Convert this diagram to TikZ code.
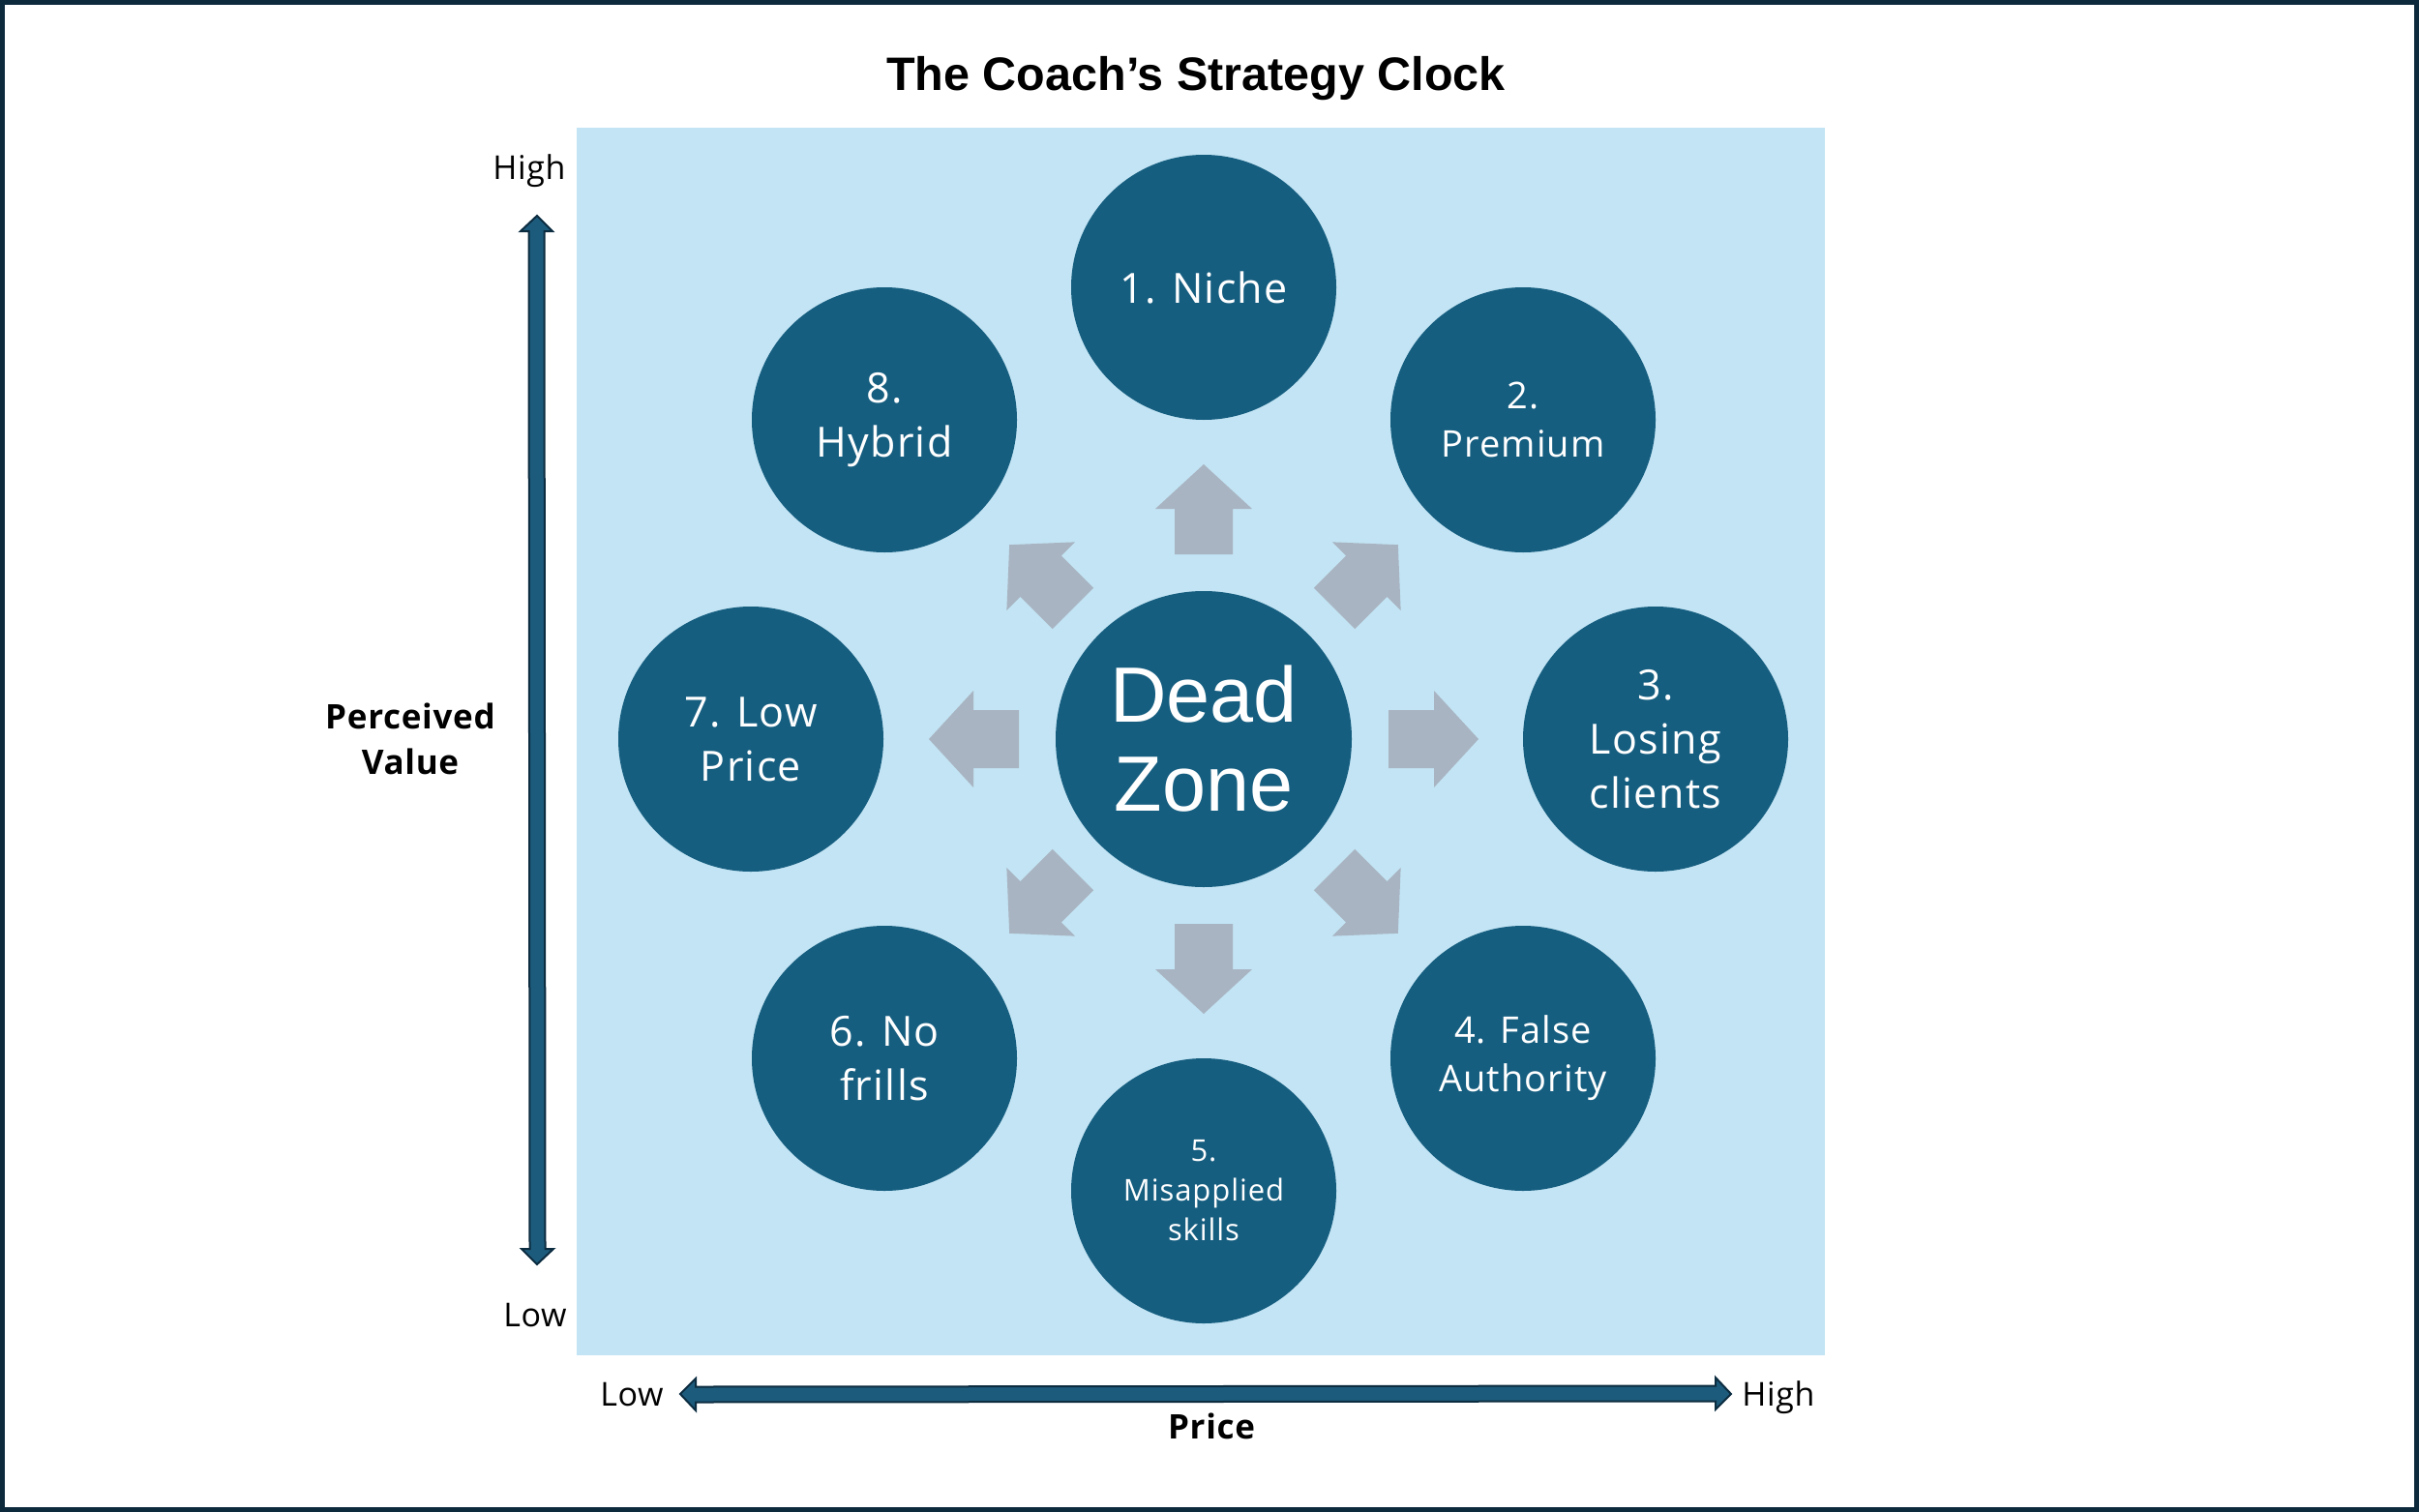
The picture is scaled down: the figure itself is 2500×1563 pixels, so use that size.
\documentclass[tikz,border=0pt]{standalone}
\usepackage{fontspec}
\setmainfont{Open Sans}
\newfontfamily\cfont{Open Sans}[LetterSpace=3]
\newfontfamily\lfont{Open Sans}[LetterSpace=2]
\newfontfamily\arialfont{Liberation Sans}
\definecolor{navyborder}{HTML}{0D2A3D}
\definecolor{circblue}{HTML}{165E80}
\definecolor{lightbg}{HTML}{C2E4F4}
\definecolor{arrowgray}{HTML}{A9B4C2}
\definecolor{axisfill}{HTML}{1D5B7C}
\definecolor{axisline}{HTML}{0C2C40}
\tikzset{
  stratcirc/.style={circle, fill=circblue, draw=none, minimum size=274pt, inner sep=0pt,
    text=white, align=center, font=\cfont\fontsize{43}{56}\selectfont},
  smalltext/.style={font=\cfont\fontsize{38}{50}\selectfont},
  tinytext/.style={font=\cfont\fontsize{31}{41}\selectfont},
  axislabel/.style={anchor=base, font=\lfont\fontsize{34}{40}\selectfont, inner sep=0pt},
  axistitle/.style={align=center, font=\lfont\bfseries\fontsize{35}{47}\selectfont, inner sep=0pt},
  blockarrow/.style={fill=arrowgray, draw=none},
  axisarrow/.style={fill=axisfill, draw=axisline, line width=2pt, line join=miter}
}
\begin{document}
\begin{tikzpicture}[x=1pt, y=-1pt]
\useasboundingbox (0,0) rectangle (2500,1563);
\fill[white] (0,0) rectangle (2500,1563);
\draw[navyborder, line width=5pt] (2.5,2.5) rectangle (2497.5,1560.5);

% title
\node[anchor=base, inner sep=0pt, font=\arialfont\bfseries\fontsize{48.5}{56}\selectfont] (title) at (1236,93) {The Coach’s Strategy Clock};

% background square
\fill[lightbg] (596,132) rectangle (1886,1401);

% block arrows
\foreach \a in {0,45,...,315}{
  \begin{scope}[shift={(1244,764)}, rotate=\a]
    \fill[blockarrow] (191,-30) -- (238,-30) -- (238,-50) -- (284,0) -- (238,50) -- (238,30) -- (191,30) -- cycle;
  \end{scope}
}

% circles
\node[stratcirc, minimum size=306pt, font=\arialfont\fontsize{81}{92}\selectfont] (dead) at (1244,764) {Dead\\Zone};
\node[stratcirc] (c1) at (1244,297) {1. Niche};
\node[stratcirc, smalltext] (c2) at (1574,434) {2.\\Premium};
\node[stratcirc] (c3) at (1711,764) {3.\\Losing\\clients};
\node[stratcirc, smalltext] (c4) at (1574,1094) {4. False\\Authority};
\node[stratcirc, tinytext] (c5) at (1244,1231) {5.\\Misapplied\\skills};
\node[stratcirc] (c6) at (914,1094) {6. No\\frills};
\node[stratcirc] (c7) at (776,764) {7. Low\\Price};
\node[stratcirc] (c8) at (914,434) {8.\\Hybrid};

% vertical axis arrow
\coordinate (vtop) at (555,223);
\coordinate (vbot) at (555,1307);
\draw[axisarrow] (vtop) -- ++(16,16) -- ++(-8.5,0) -- (563.5,1291) -- ++(8.5,0) -- (vbot) -- ++(-16,-16) -- ++(8.5,0) -- (546.5,239) -- ++(-8.5,0) -- cycle;

% horizontal axis arrow
\coordinate (hleft) at (703,1441);
\coordinate (hright) at (1789,1441);
\draw[axisarrow] (hleft) -- ++(16,-16) -- ++(0,8.5) -- (1773,1432.5) -- ++(0,-8.5) -- (hright) -- ++(-16,16) -- ++(0,-8.5) -- (719,1449.5) -- ++(0,8.5) -- cycle;

% axis labels
\node[axislabel] (vhigh) at (547,185) {High};
\node[axislabel] (vlow) at (553,1371) {Low};
\node[axislabel] (hlow) at (653,1453) {Low};
\node[axislabel] (hhigh) at (1838,1453) {High};
\node[axistitle, anchor=base] (price) at (1252,1487) {Price};
\node[axistitle] (pv) at (424,764) {Perceived\\Value};
\end{tikzpicture}
\end{document}
